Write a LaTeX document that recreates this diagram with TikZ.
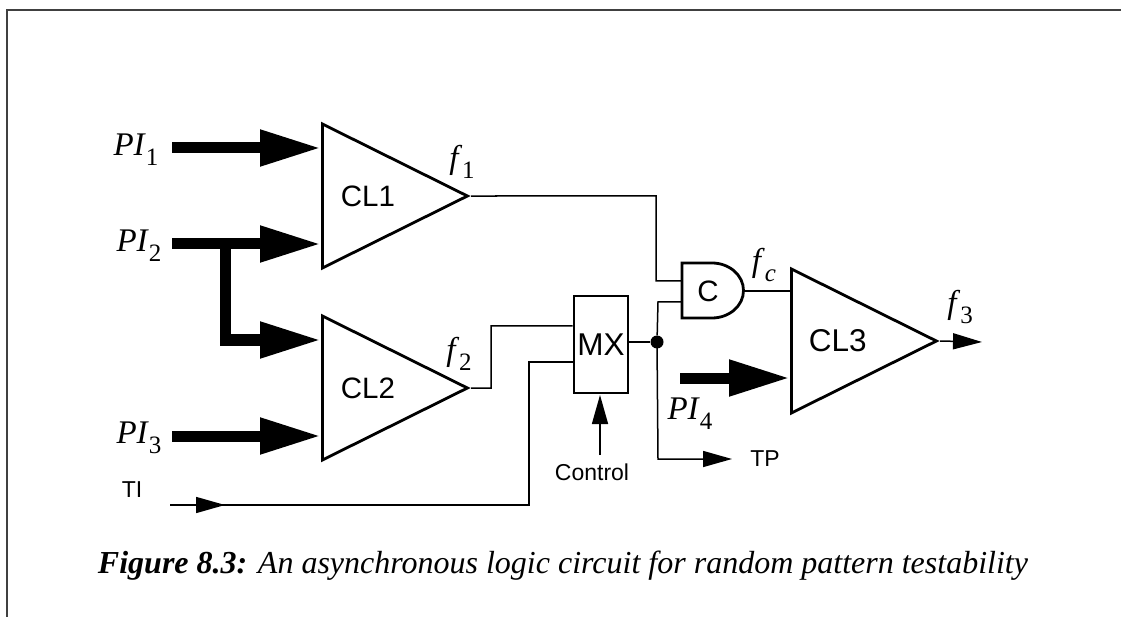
\documentclass[tikz,border=0pt]{standalone}
\usepackage{fontspec}
\setmainfont{Liberation Serif}
\setsansfont{Liberation Sans}
\usepackage{tikz}
\usetikzlibrary{arrows.meta,positioning,calc,shapes.geometric}
\newcommand{\siglab}[2]{\fontsize{33}{33}\selectfont\textit{#1}\raisebox{-0.3em}{\fontsize{25}{25}\selectfont #2}}
\newcommand{\gatefont}{\sffamily\fontsize{29.5}{30}\selectfont}
\begin{document}
\begin{tikzpicture}[x=1pt,y=-1pt,
        tri/.style={draw,isosceles triangle,isosceles triangle stretches,inner sep=0pt,
          minimum width=144pt,minimum height=145pt,line width=2.8pt,font=\gatefont,anchor=west},
        sig/.style={inner sep=0pt},
        smalltxt/.style={inner sep=0pt,font=\sffamily\fontsize{23}{24}\selectfont},
        w/.style={line width=1.5pt},
        fat/.style={line width=11pt,-{Triangle[length=61pt,width=34pt]}},
        thin/.style={line width=1.5pt,-{Triangle[length=29pt,width=16pt]}}]
        \useasboundingbox (0,0) rectangle (1121,617);
        \draw[line width=1.5pt,black!75] (7,617)--(7,10)--(1121,10);
        \node[tri] (cl1) at (321,196) {CL1\kern10pt};
        \node[tri] (cl2) at (321,388) {CL2\kern10pt};
        \node[tri,font=\sffamily\fontsize{31.5}{32}\selectfont] (cl3) at (790,341) {CL3\kern8pt};
        \node[draw,line width=2.8pt,minimum width=54pt,minimum height=97pt,inner sep=0pt,
          font=\sffamily\fontsize{31.5}{32}\selectfont] (mx) at (601,344.5) {MX};
        \node[sig] (pi1) at (136,150) {\siglab{PI}{1}};
        \node[sig] (pi2) at (139,246) {\siglab{PI}{2}};
        \node[sig] (pi3) at (139,438) {\siglab{PI}{3}};
        \node[sig] (pi4) at (690,414) {\siglab{PI}{4}};
        \node[sig] (f1) at (462,162) {\siglab{f}{1}};
        \node[sig] (f2) at (459,354) {\siglab{f}{2}};
        \node[sig] (fc) at (764,265) {\siglab{f}{\textit{c}}};
        \node[sig] (f3) at (960,307) {\siglab{f}{3}};
        \node[smalltxt] (ti) at (132,490) {TI};
        \node[smalltxt] (ctl) at (592,472) {Control};
        \node[smalltxt] (tp) at (765,459) {TP};
        \node[circle,fill,inner sep=0pt,minimum size=13pt] (dot) at (657,342) {};
        % AND gate outline
        \draw[line width=2.8pt] (682,263)--(712,263) arc[start angle=90,end angle=-90,x radius=31.5pt,y radius=27.5pt]--(682,318)--cycle;
        \node[inner sep=0pt,font=\gatefont] (c) at (708,291) {C};
        \coordinate (ca) at (682,281);
        \coordinate (cb) at (682,302);
        \coordinate (co) at (744,291);
        \coordinate (pi1s) at (172,148);
        \coordinate (pi2s) at (172,244);
        \coordinate (pi3s) at (172,436);
        \coordinate (pi4s) at (680,378);
        \coordinate (brs) at (225.5,244);
        \coordinate (brb) at (225.5,340);
        \coordinate (tis) at (170,505);
        \coordinate (tik) at (529,505);
        \coordinate (ctls) at (600,455);
        \coordinate (out3) at (982,342);
        \coordinate (tpe) at (732,459);
        \draw[fat] (pi1s)--(cl1.west |- pi1s);
        \draw[fat] (pi2s)--(cl1.west |- pi2s);
        \draw[fat] (pi3s)--(cl2.west |- pi3s);
        \draw[fat] (brs)--(brb)--(cl2.west |- brb);
        \draw[fat] (pi4s)--(cl3.west |- pi4s);
        \draw[w] (cl1.east)--(656,196)--(656,281)--(ca);
        \draw[w] (cl2.east)--(491,388)--(491,326)--(mx.west |- 0,326);
        \draw[w] (tis)--(tik)--(529,362)--(mx.west |- 0,362);
        \draw[thin] (tis)--(225,505);
        \draw[w] (mx.east |- dot)--(dot);
        \draw[w] (dot)--(658,302)--(cb);
        \draw[thin] (dot.center)--(658,459)--(tpe);
        \draw[w] (co)--(cl3.west |- co);
        \draw[thin] (cl3.east)--(out3);
        \draw[thin] (ctls)--(600,395);
        \node[inner sep=0pt,font=\fontsize{32}{33}\selectfont] (cap) at (563,566)
          {\textbf{\textit{Figure 8.3:}} \textit{An asynchronous logic circuit for random pattern testability}};
      \end{tikzpicture}
\end{document}
